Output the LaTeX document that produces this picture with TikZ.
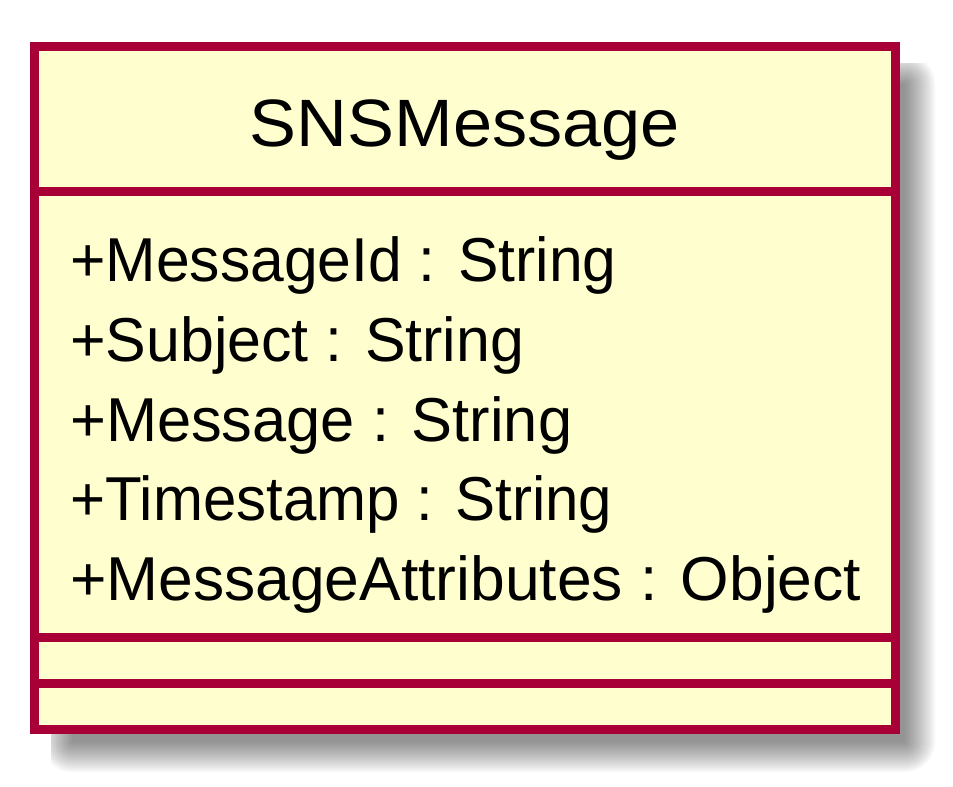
\documentclass[tikz,border=0pt]{standalone}
\usepackage{fontspec}
\setmainfont{Liberation Sans}
\definecolor{umlborder}{HTML}{A80036}
\definecolor{umlfill}{HTML}{FEFECE}
\begin{document}
\begin{tikzpicture}[x=1pt,y=-1pt,
  classname/.style={inner sep=0pt,anchor=base,font=\fontsize{67}{67}\selectfont},
  member/.style={inner sep=0pt,anchor=base west,font=\fontsize{62}{62}\selectfont},
  frame/.style={draw=umlborder,line width=9pt},
  sep/.style={draw=umlborder,line width=9pt,line cap=butt}]
  % canvas
  \fill[white] (0,0) rectangle (953,787);
  \useasboundingbox (0,0) rectangle (953,787);
  % soft drop shadow, built from stacked translucent layers
  \begin{scope}
    \clip (51,63) rectangle (953,787);
    \foreach \d in {-15,-13,...,15}{
      \fill[black,opacity=0.03,rounded corners={max(15+\d,1)*1pt}]
        (57-\d,69-\d) rectangle (920+\d,757+\d);
    }
  \end{scope}
  % class box
  \draw[frame,fill=umlfill] (34.5,46.5) rectangle (895.5,729.5);
  \coordinate (s1l) at (34.5,191);   \coordinate (s1r) at (895.5,191);
  \coordinate (s2l) at (34.5,637.5); \coordinate (s2r) at (895.5,637.5);
  \coordinate (s3l) at (34.5,683.5); \coordinate (s3r) at (895.5,683.5);
  \draw[sep] (s1l) -- (s1r);
  \draw[sep] (s2l) -- (s2r);
  \draw[sep] (s3l) -- (s3r);
  % class name
  \node[classname] (name) at (465,146.5) {\scalebox{1.05}[1]{SNSMessage}};
  % attributes
  \node[member] (a1) at (70,281) {\scalebox{0.978}[1]{+MessageId : String}};
  \node[member] (a2) at (70,361) {\scalebox{0.982}[1]{+Subject : String}};
  \node[member] (a3) at (70,441) {\scalebox{0.99}[1]{+Message : String}};
  \node[member] (a4) at (70,520) {\scalebox{0.968}[1]{+Timestamp : String}};
  \node[member] (a5) at (70,600) {\scalebox{1.006}[1]{+MessageAttributes : Object}};
\end{tikzpicture}
\end{document}
